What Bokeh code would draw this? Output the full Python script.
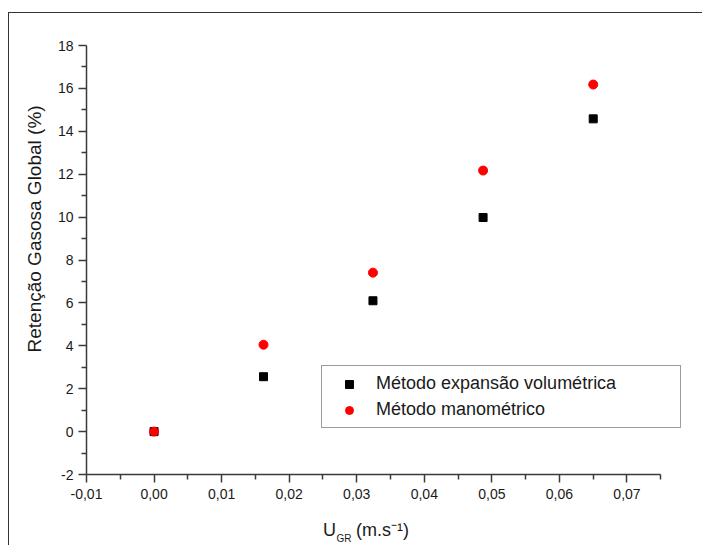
import math
from bokeh.plotting import figure
from bokeh.models import Range1d, FixedTicker, Legend, LegendItem, Title
from bokeh.embed import file_html
from bokeh.resources import INLINE

# ---- data ----
u_gr = [0.0, 0.0162, 0.0324, 0.0487, 0.0650]
ret_volumetrica = [0.0, 2.56, 6.10, 9.98, 14.58]
ret_manometrico = [0.0, 4.05, 7.41, 12.17, 16.18]

series_names = ["Método expansão volumétrica", "Método manométrico"]

x_ticks = [-0.01, 0.0, 0.01, 0.02, 0.03, 0.04, 0.05, 0.06, 0.07]
x_tick_labels = ["-0,01", "0,00", "0,01", "0,02", "0,03", "0,04", "0,05", "0,06", "0,07"]
x_minor = [-0.005, 0.005, 0.015, 0.025, 0.035, 0.045, 0.055, 0.065, 0.075]
x_axis_bounds = (-0.01, 0.075)
y_ticks = [-2, 0, 2, 4, 6, 8, 10, 12, 14, 16, 18]
y_tick_labels = ["-2", "0", "2", "4", "6", "8", "10", "12", "14", "16", "18"]
y_minor = [-1, 1, 3, 5, 7, 9, 11, 13, 15, 17]

FONT = "Liberation Sans"
TXT = "#1a1a1a"
AX = "#3a3a3a"
NB = "\u00a0"

# frame extends a little past the axis end so the legend (which reaches past it) is not clipped
p = figure(width=694, height=533, output_backend="svg", toolbar_location=None,
           x_range=Range1d(-0.01, 0.0794), y_range=Range1d(-2, 18),
           min_border_left=77, min_border_right=13, min_border_top=32, min_border_bottom=72)
p.margin = (12, 0, 0, 8)
p.styles = {"border-left": "1px solid #333333", "border-top": "1px solid #333333"}

p.xgrid.visible = False
p.ygrid.visible = False
p.outline_line_color = None
p.background_fill_color = "white"
p.border_fill_color = "white"

for ax, ticks, labels, minor in ((p.xaxis[0], x_ticks, x_tick_labels, x_minor),
                                 (p.yaxis[0], y_ticks, y_tick_labels, y_minor)):
    ax.ticker = FixedTicker(ticks=ticks, minor_ticks=minor)
    ax.major_label_overrides = {t: l for t, l in zip(ticks, labels)}
    ax.axis_line_color = AX
    ax.axis_line_width = 1.5
    ax.major_tick_line_color = AX
    ax.minor_tick_line_color = AX
    ax.major_tick_line_width = 1.5
    ax.minor_tick_line_width = 1.5
    ax.major_tick_out = 8
    ax.major_tick_in = 0
    ax.minor_tick_out = 5
    ax.minor_tick_in = 0
    ax.major_label_text_font = FONT
    ax.major_label_text_font_size = "14px"
    ax.major_label_text_color = TXT

p.xaxis.bounds = x_axis_bounds
p.xaxis.major_label_standoff = 6
p.yaxis.major_label_standoff = 5

# x-axis title: U_GR (m.s^-1) -- main text as axis label (trailing spaces shift it left
# to sit under the axis line), subscript as a title row
p.xaxis.axis_label = "U" + NB * 4 + "(m.s\u207b\u00b9)" + NB * 9
p.xaxis.axis_label_standoff = 18
p.xaxis.axis_label_text_font = FONT
p.xaxis.axis_label_text_font_size = "18px"
p.xaxis.axis_label_text_font_style = "normal"
p.xaxis.axis_label_text_color = TXT

r1 = p.scatter(u_gr, ret_volumetrica, marker="square", size=8, color="black")
r2 = p.scatter(u_gr, ret_manometrico, marker="circle", size=9, color="red")

legend = Legend(items=[LegendItem(label=series_names[0], renderers=[r1]),
                       LegendItem(label=series_names[1], renderers=[r2])],
                location=(235, 46), padding=7, spacing=5, margin=0,
                glyph_width=40, glyph_height=20, label_height=20, label_width=297,
                label_standoff=7, label_text_font=FONT, label_text_font_size="18px",
                label_text_color=TXT, border_line_color=AX, border_line_width=1.5,
                background_fill_color="white", background_fill_alpha=1.0)
p.add_layout(legend)

# y-axis title
p.add_layout(Title(text="Retenção Gasosa Global (%)", align="left", offset=122,
                   standoff=20, text_font=FONT, text_font_size="19px",
                   text_font_style="normal", text_color=TXT), "left")

p.add_layout(Title(text="GR", align="left", offset=250, standoff=-19, vertical_align="top",
                   text_font=FONT, text_font_size="10px", text_font_style="normal",
                   text_color=TXT), "below")

open("out.html", "w").write(file_html(p, INLINE))
